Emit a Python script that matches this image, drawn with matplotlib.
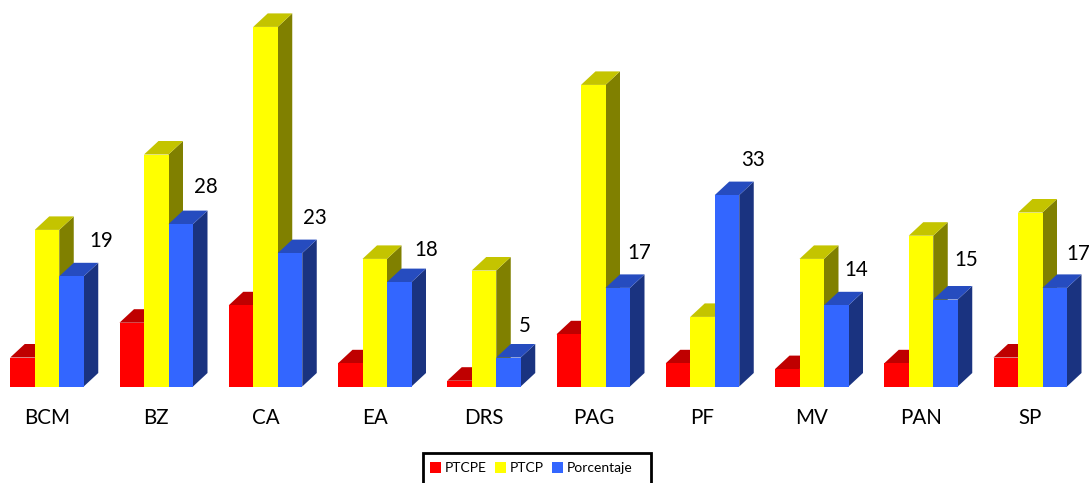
import matplotlib
matplotlib.use("Agg")
import matplotlib.pyplot as plt
from matplotlib.patches import Patch, Rectangle

categories = ["BCM", "BZ", "CA", "EA", "DRS", "PAG", "PF", "MV", "PAN", "SP"]
ptcpe = [5, 11, 14, 4, 1, 9, 4, 3, 4, 5]
ptcp = [27, 40, 62, 22, 20, 52, 12, 22, 26, 30]
porcentaje = [19, 28, 23, 18, 5, 17, 33, 14, 15, 17]

W, H = 1091, 483
PX_PER_CAT = 109.25
PX_PER_VAL = 5.8
X0_PX = 47.0      # pixel x of first category centre
Y0_PX = 386.5     # pixel y of baseline

# hand placement of the value labels, in pixels
label_dx_px = [42, 38, 37, 40, 35, 34, 39, 33, 33, 36]
label_dy_px = [35, 37, 35, 32, 32, 35, 35, 35, 39, 34]

plt.rcParams["font.family"] = ["Lato", "DejaVu Sans"]
fig = plt.figure(figsize=(W / 100, H / 100), dpi=100, facecolor="white")
ax = fig.add_axes([0, 0, 1, 1])
ax.set_xlim(-X0_PX / PX_PER_CAT, (W - X0_PX) / PX_PER_CAT)
ax.set_ylim(-(H - Y0_PX) / PX_PER_VAL, Y0_PX / PX_PER_VAL)
ax.axis("off")

bw = 24.5 / PX_PER_CAT
dx = 14.5 / PX_PER_CAT
dy = 13.5 / PX_PER_VAL

series = [
    (ptcpe, -1, "#FF0000", "#BF0000", "#800000", "PTCPE"),
    (ptcp, 0, "#FFFF00", "#C4C400", "#808000", "PTCP"),
    (porcentaje, 1, "#3366FF", "#264CBF", "#1A3380", "Porcentaje"),
]

handles = []
for z, (vals, off, front, top, side, name) in enumerate(series):
    for i, v in enumerate(vals):
        c = i + off * bw
        l, r = c - bw / 2, c + bw / 2
        zo = 3 + z * 3
        ax.fill([r, r + dx, r + dx, r], [0, dy, v + dy, v], color=side, lw=0, zorder=zo)
        ax.fill([l, l + dx, r + dx, r], [v, v + dy, v + dy, v], color=top, lw=0, zorder=zo + 1)
        ax.bar(c, v, width=bw, color=front, linewidth=0, zorder=zo + 2)
    handles.append(Patch(facecolor=front, edgecolor="none", label=name))

for i, (c, v) in enumerate(zip(categories, porcentaje)):
    ax.text(i + label_dx_px[i] / PX_PER_CAT, v + label_dy_px[i] / PX_PER_VAL, str(v),
            ha="left", va="center", fontsize=14.8, color="black", zorder=20)
    ax.text(i, -31 / PX_PER_VAL, c, ha="center", va="center", fontsize=14.8,
            color="black", zorder=20)

ax.add_patch(Rectangle((423 / W, 1 - 495 / H), 228 / W, 42 / H, transform=fig.transFigure,
                       facecolor="white", edgecolor="black", linewidth=2, zorder=25,
                       clip_on=False))
leg = ax.legend(
    handles=handles, ncol=3, loc="center left",
    bbox_to_anchor=(430 / W, 1 - 468 / H), bbox_transform=fig.transFigure,
    fontsize=10, frameon=False, handlelength=0.82, handleheight=0.82,
    handletextpad=0.22, columnspacing=0.62, borderpad=0, borderaxespad=0,
)
leg.set_zorder(30)

fig.savefig("out.png", dpi=100, facecolor="white")
